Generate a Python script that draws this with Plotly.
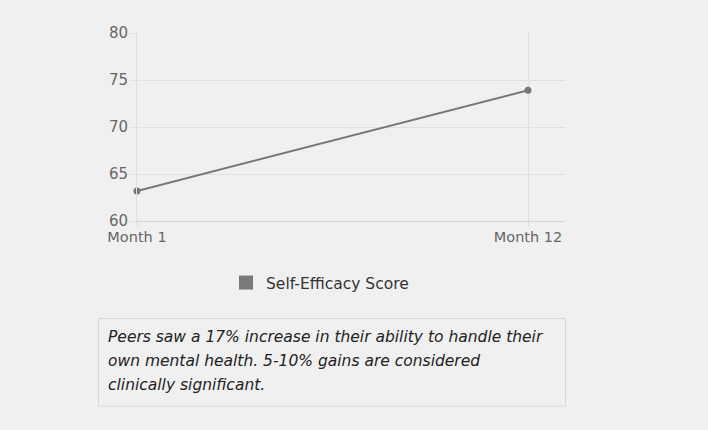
import plotly.graph_objects as go

months = ["Month 1", "Month 12"]
scores = [63.2, 73.9]
series_name = "Self-Efficacy Score"
y_ticks = [60, 65, 70, 75, 80]
caption_lines = [
    "Peers saw a 17% increase in their ability to handle their",
    "own mental health. 5-10% gains are considered",
    "clinically significant.",
]

FONT = "DejaVu Sans, Open Sans, sans-serif"
BG = "#f0f0f0"
LINE = "#777777"

# plot area pixel geometry (708x430 canvas)
L, R, T, B = 137, 565, 33, 221
W, H = R - L, B - T


def px(x):
    return (x - L) / W


def py(y):
    return (B - y) / H


fig = go.Figure()
fig.add_trace(go.Scatter(
    x=[0, 1], y=scores, mode="lines+markers",
    line=dict(color=LINE, width=2),
    marker=dict(color=LINE, size=7),
    cliponaxis=False,
    showlegend=False, hoverinfo="skip",
))
fig.add_trace(go.Scatter(
    x=[None], y=[None], mode="markers", name=series_name,
    marker=dict(symbol="square", color="#7a7a7a", size=14),
    showlegend=True,
))

fig.update_layout(
    width=708, height=430,
    paper_bgcolor=BG, plot_bgcolor=BG,
    margin=dict(l=L, r=708 - R, t=T, b=430 - B, pad=0),
    font=dict(family=FONT, color="#666666", size=13),
    xaxis=dict(
        range=[0, (R - L) / (528 - L)],
        tickmode="array", tickvals=[0, 1], ticktext=months,
        showgrid=True, gridcolor="#e0e0e0", gridwidth=1,
        ticks="outside", ticklen=5, tickcolor="#e0e0e0",
        showline=True, linecolor="#d4d4d4", linewidth=1,
        zeroline=False, tickfont=dict(size=14.5, color="#666666"),
        ticklabelstandoff=-2,
        fixedrange=True,
    ),
    yaxis=dict(
        range=[60, 80], tickvals=y_ticks,
        showgrid=True, gridcolor="#e0e0e0", gridwidth=1,
        ticks="outside", ticklen=6, tickcolor="#e0e0e0",
        showline=True, linecolor="#e0e0e0", linewidth=1,
        zeroline=False, tickfont=dict(size=15, color="#666666"),
        ticklabelstandoff=-1,
        fixedrange=True,
    ),
    legend=dict(
        orientation="h", x=px(226), y=py(266), xanchor="left", yanchor="top",
        font=dict(size=15.5, color="#333333", family=FONT),
        bgcolor="rgba(0,0,0,0)", itemclick=False,
    ),
    showlegend=True,
)

fig.add_shape(
    type="rect", xref="paper", yref="paper",
    x0=px(98.5), x1=px(565.5), y0=py(406), y1=py(318.5),
    line=dict(color="#d6d6d6", width=1), fillcolor=BG, layer="below",
)
for i, txt in enumerate(caption_lines):
    fig.add_annotation(
        xref="paper", yref="paper", x=px(106), y=py(337 + 24 * i),
        xanchor="left", yanchor="middle", showarrow=False,
        text=txt, font=dict(family=FONT, size=15.5, color="#222222", style="italic"),
    )

fig.write_html(
    "out.html",
    config={"displayModeBar": False},
    post_script="document.body.style.margin='0';document.body.style.background='#f0f0f0';",
)
